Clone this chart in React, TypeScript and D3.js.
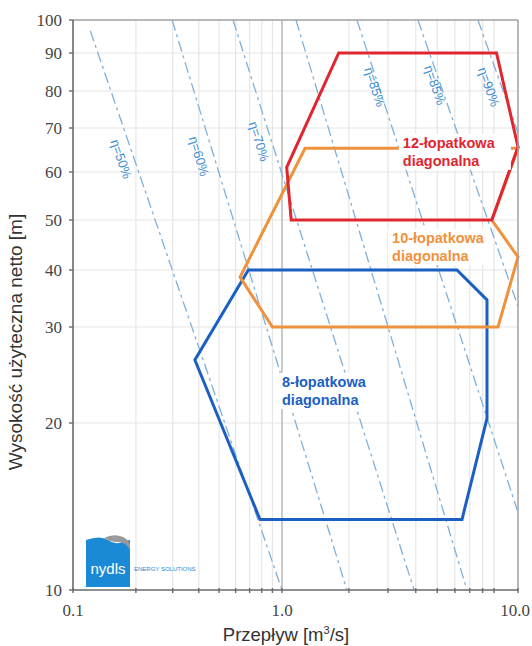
import React from "react";
import * as d3 from "d3";

// ---------- data ----------
const Q_LABEL_TICKS = [0.1, 1, 10];
const Q_LABEL_TEXT = ["0.1", "1.0", "10.0"];
const Q_MINOR = [0.2, 0.3, 0.4, 0.5, 0.6, 0.7, 0.8, 0.9, 2, 3, 4, 5, 6, 7, 8, 9];
const H_TICKS = [10, 20, 30, 40, 50, 60, 70, 80, 90, 100];

// efficiency iso-lines: [start, end] as [Q, H]
const EFF_LINES: [number, number][][] = [
  [[0.121, 96.6], [1.0, 10]],
  [[0.298, 100], [1.96, 10]],
  [[0.583, 100], [3.93, 10]],
  [[1.156, 100], [6.8, 10]],
  [[2.175, 100], [10, 13.8]],
  [[4.09, 100], [10, 33.3]],
  [[7.62, 100], [10, 68.8]],
];
const EFF_LABELS = ["η=50%", "η=60%", "η=70%", "η=85%", "η=85%", "η=90%"];
const EFF_LABEL_LINE = [0, 1, 2, 4, 5, 6];
const EFF_LABEL_POS: [number, number][] = [
  [0.17, 62.8],
  [0.401, 63.4],
  [0.776, 66.8],
  [2.62, 81],
  [4.88, 81.5],
  [8.54, 81],
];

const RUNNER_12: [number, number][] = [
  [1.8, 90], [9.1, 90], [10, 65.5], [8.8, 50], [1.1, 50], [1.05, 61],
];
const RUNNER_10: [number, number][] = [
  [0.63, 38.6], [1.27, 65.2], [10, 65.2], [8.8, 50], [10, 42.4], [9.16, 30], [0.9, 30],
];
const RUNNER_8: [number, number][] = [
  [0.69, 40], [6.13, 40], [8.37, 34.4], [8.37, 20.4], [6.46, 13.4], [0.785, 13.4], [0.383, 26.1],
];

const LABEL_12 = ["12-łopatkowa", "diagonalna"];
const LABEL_10 = ["10-łopatkowa", "diagonalna"];
const LABEL_8 = ["8-łopatkowa", "diagonalna"];
const LABEL_12_POS: [number, number] = [3.5, 65.3];
const LABEL_10_POS: [number, number] = [3.13, 45.1];
const LABEL_8_POS: [number, number] = [1.0, 23.3];

// ---------- layout ----------
const W = 532;
const H = 646;
const X_CAL_DOMAIN = [0.1, 1, 9, 10];
const X_CAL_RANGE = [73, 282, 494, 518];
const Y_CAL_RANGE = [590, 423, 327, 270, 220, 172, 128, 91, 53, 20];

const RED = "#e0262f";
const ORANGE = "#f0913c";
const BLUE = "#1c5fc2";
const EFF_COLOR = "#7fb0da";
const EFF_TEXT = "#3f8fd0";

export default function App() {
  const x = d3.scaleLog().domain(X_CAL_DOMAIN).range(X_CAL_RANGE);
  const y = d3.scaleLog().domain(H_TICKS).range(Y_CAL_RANGE);
  const x0 = x(0.1), x1 = x(10), y0 = y(10), y1 = y(100);

  const line = d3
    .line<[number, number]>()
    .x((d) => x(d[0]))
    .y((d) => y(d[1]));
  const poly = (pts: [number, number][]) => line(pts)! + "Z";

  const serif = "'Liberation Serif', 'DejaVu Serif', serif";
  const sans = "'Liberation Sans', Arial, sans-serif";

  const runnerLabel = (
    lines: string[],
    pos: [number, number],
    color: string,
    bg: [number, number, number, number]
  ) => {
    const px = x(pos[0]);
    const py = y(pos[1]);
    return (
      <g>
        <rect x={px + bg[0]} y={py + bg[1]} width={bg[2]} height={bg[3]} fill="#fff" />
        {lines.map((t, i) => (
          <text
            key={i}
            x={px}
            y={py + i * 18}
            fontFamily={sans}
            fontWeight="bold"
            fontSize={14.5}
            fill={color}
          >
            {t}
          </text>
        ))}
      </g>
    );
  };

  return (
    <svg
      width={W}
      height={H}
      style={{ position: "absolute", left: 0, top: 0, background: "#fff" }}
    >
      {/* grid */}
      {H_TICKS.slice(1, -1).map((h) => (
        <line key={"gh" + h} x1={x0} x2={x1} y1={y(h)} y2={y(h)} stroke="#e6e6e6" strokeWidth={1.2} />
      ))}
      {Q_MINOR.map((q) => (
        <line key={"gv" + q} x1={x(q)} x2={x(q)} y1={y0} y2={y1} stroke="#e6e6e6" strokeWidth={1.2} />
      ))}
      <line x1={x(1)} x2={x(1)} y1={y0} y2={y1} stroke="#b8b8b8" strokeWidth={1.5} />

      {/* efficiency lines */}
      {EFF_LINES.map((l, i) => (
        <path
          key={"eff" + i}
          d={line(l)!}
          fill="none"
          stroke={EFF_COLOR}
          strokeWidth={1.3}
          strokeDasharray="11,4,3,4"
        />
      ))}
      {EFF_LABELS.map((t, i) => {
        const l = EFF_LINES[EFF_LABEL_LINE[i]];
        const ang =
          (Math.atan2(y(l[1][1]) - y(l[0][1]), x(l[1][0]) - x(l[0][0])) * 180) / Math.PI;
        const px = x(EFF_LABEL_POS[i][0]);
        const py = y(EFF_LABEL_POS[i][1]);
        return (
          <text
            key={"el" + i}
            transform={`translate(${px},${py}) rotate(${ang})`}
            textAnchor="middle"
            dy="0.35em"
            fontFamily={sans}
            fontSize={13}
            fill={EFF_TEXT}
          >
            {t}
          </text>
        );
      })}

      {/* runner regions */}
      <path d={poly(RUNNER_8)} fill="none" stroke={BLUE} strokeWidth={3} strokeLinejoin="miter" />
      <path d={poly(RUNNER_10)} fill="none" stroke={ORANGE} strokeWidth={3} strokeLinejoin="miter" />
      <path d={poly(RUNNER_12)} fill="none" stroke={RED} strokeWidth={3} strokeLinejoin="miter" />

      {runnerLabel(LABEL_12, LABEL_12_POS, RED, [-4, -14, 112, 36])}
      {runnerLabel(LABEL_10, LABEL_10_POS, ORANGE, [-4, -14, 100, 36])}
      {runnerLabel(LABEL_8, LABEL_8_POS, BLUE, [-4, -14, 92, 36])}

      {/* frame */}
      <line x1={x0} x2={x1} y1={y1} y2={y1} stroke="#a0a0a0" strokeWidth={1.5} />
      <line x1={x1} x2={x1} y1={y1} y2={y0} stroke="#a0a0a0" strokeWidth={1.5} />
      <line x1={x0} x2={x0} y1={y1} y2={y0 + 1} stroke="#6a6a6a" strokeWidth={1.6} />
      <line x1={x0 - 1} x2={x1} y1={y0} y2={y0} stroke="#6a6a6a" strokeWidth={1.6} />

      {/* y ticks */}
      {H_TICKS.map((h) => (
        <g key={"yt" + h}>
          <line x1={x0 - 4} x2={x0} y1={y(h)} y2={y(h)} stroke="#6a6a6a" strokeWidth={1.4} />
          <text
            x={62}
            y={y(h)}
            dy="0.36em"
            textAnchor="end"
            fontFamily={serif}
            fontSize={17}
            fill="#454545"
          >
            {h}
          </text>
        </g>
      ))}
      {/* x ticks */}
      {[...Q_LABEL_TICKS, ...Q_MINOR].map((q) => (
        <line key={"xt" + q} x1={x(q)} x2={x(q)} y1={y0 - 2} y2={y0 + 3} stroke="#6a6a6a" strokeWidth={1.4} />
      ))}
      {Q_LABEL_TICKS.map((q, i) => (
        <text
          key={"xl" + q}
          x={i === 2 ? x(q) - 3 : x(q)}
          y={616}
          textAnchor="middle"
          fontFamily={serif}
          fontSize={17}
          fill="#454545"
        >
          {Q_LABEL_TEXT[i]}
        </text>
      ))}

      {/* axis titles */}
      <text x={286} y={641} textAnchor="middle" fontFamily={sans} fontSize={18.5} fill="#333">
        Przepływ [m<tspan dy={-7} fontSize={11}>3</tspan>
        <tspan dy={7}>/s]</tspan>
      </text>
      <text
        transform="translate(22,342) rotate(-90)"
        textAnchor="middle"
        fontFamily={sans}
        fontSize={19}
        fill="#333"
      >
        Wysokość użyteczna netto [m]
      </text>

      {/* logo */}
      <g>
        <path
          d="M86,540 Q100,535 108,540 Q116,546 124,541 L130,540 L130,587 L86,587 Z"
          fill="#1a8ad6"
        />
        <path d="M104,538 Q112,534 120,536 Q128,538 130,545 L130,550 Q126,542 118,542 Q110,542 104,538 Z" fill="#9a9a9a" />
        <text x={108} y={574} textAnchor="middle" fontFamily={sans} fontSize={15} fill="#fff">
          nydls
        </text>
        <text x={134} y={571} fontFamily={sans} fontSize={6} fill="#1a8ad6">
          ENERGY SOLUTIONS
        </text>
      </g>
    </svg>
  );
}
